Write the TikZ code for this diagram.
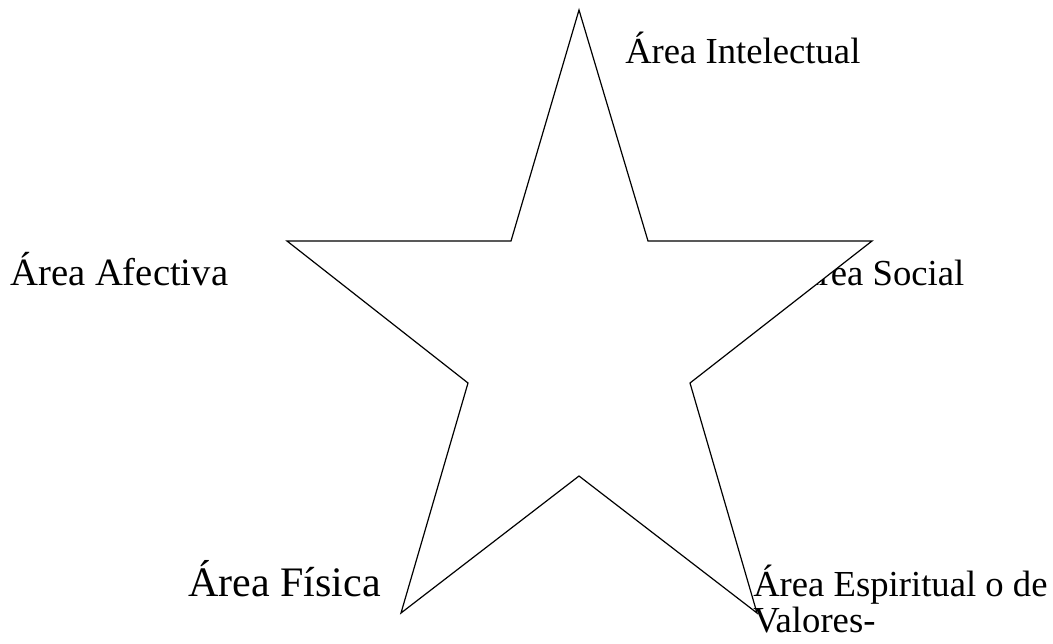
\documentclass[tikz,border=0pt]{standalone}
\usepackage{fontspec}
\setmainfont{Liberation Serif}

\begin{document}
\begin{tikzpicture}[x=0.75pt,y=-0.75pt,
    area/.style={anchor=base west, inner sep=0pt, font=\fontsize{27.5}{33}\selectfont},
    media/.style={anchor=base west, inner sep=0pt, font=\fontsize{29}{35}\selectfont},
    grande/.style={anchor=base west, inner sep=0pt, font=\fontsize{31.5}{38}\selectfont},
    estrella/.style={draw=black, fill=white, line width=0.9pt, line join=miter}]

\useasboundingbox (0,0) rectangle (1053,643);

\coordinate (T) at (579,10);
\coordinate (Ti) at (648,241);
\coordinate (D) at (872,241);
\coordinate (Di) at (690,383);
\coordinate (BD) at (757,613);
\coordinate (Bi) at (579,476);
\coordinate (BI) at (401,613);
\coordinate (Ii) at (468,383);
\coordinate (I) at (287,241);
\coordinate (Si) at (511,241);

\node [area] (social) at (792,285){Área Social};
\draw [estrella] (T) -- (Ti) -- (D) -- (Di) -- (BD) -- (Bi) -- (BI) -- (Ii) -- (I) -- (Si) -- cycle;
\node [area] (intel) at (625,63){Área Intelectual};
\node [media] (afect) at (10,285){Área Afectiva};
\node [grande] (fisica) at (188,596){Área Física};
\node [area] (espir) at (753,596){Área Espiritual o de};
\node [area] (valor) at (753,632){Valores-};
\end{tikzpicture}
\end{document}
